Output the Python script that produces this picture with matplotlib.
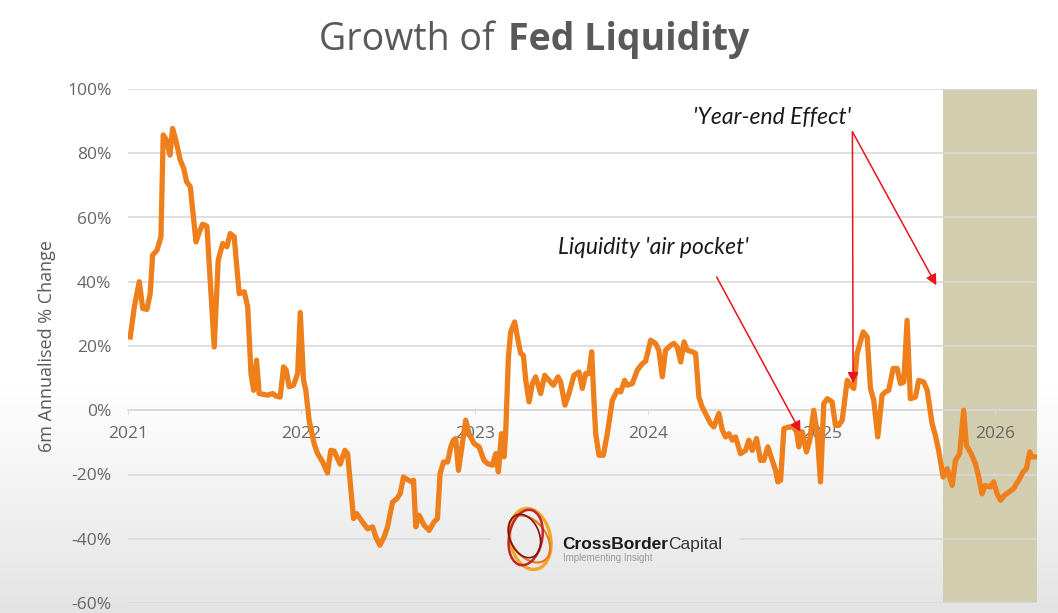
import matplotlib.pyplot as plt
import matplotlib.patches as patches
import numpy as np

# Fed liquidity, 6m annualised % change
t_years = [0.013, 0.036, 0.065, 0.085, 0.109, 0.128, 0.142, 0.167, 0.190, 0.203,
           0.223, 0.242, 0.257, 0.276, 0.301, 0.321, 0.338, 0.359, 0.392, 0.411,
           0.430, 0.455, 0.497, 0.520, 0.546, 0.570, 0.589, 0.612, 0.641, 0.670,
           0.690, 0.709, 0.724, 0.741, 0.756, 0.805, 0.834, 0.853, 0.877, 0.897,
           0.912, 0.929, 0.954, 0.978, 0.993, 1.012, 1.025, 1.044, 1.073, 1.093,
           1.122, 1.150, 1.169, 1.188, 1.223, 1.250, 1.266, 1.300, 1.319, 1.352,
           1.381, 1.410, 1.429, 1.452, 1.476, 1.496, 1.525, 1.550, 1.569, 1.588,
           1.611, 1.636, 1.646, 1.659, 1.678, 1.707, 1.736, 1.764, 1.784, 1.799,
           1.819, 1.842, 1.861, 1.876, 1.889, 1.905, 1.947, 1.966, 1.995, 2.024,
           2.052, 2.072, 2.101, 2.120, 2.135, 2.153, 2.168, 2.177, 2.193, 2.206,
           2.229, 2.248, 2.264, 2.279, 2.293, 2.312, 2.331, 2.350, 2.379, 2.402,
           2.427, 2.452, 2.479, 2.494, 2.519, 2.542, 2.571, 2.600, 2.619, 2.638,
           2.657, 2.673, 2.686, 2.696, 2.715, 2.740, 2.763, 2.792, 2.821, 2.840,
           2.863, 2.878, 2.907, 2.936, 2.965, 2.984, 3.013, 3.041, 3.060, 3.080,
           3.099, 3.128, 3.147, 3.166, 3.186, 3.205, 3.224, 3.253, 3.272, 3.291,
           3.310, 3.339, 3.358, 3.377, 3.406, 3.426, 3.445, 3.464, 3.483, 3.502,
           3.531, 3.560, 3.579, 3.599, 3.623, 3.646, 3.665, 3.688, 3.714, 3.733,
           3.746, 3.762, 3.781, 3.809, 3.835, 3.854, 3.867, 3.887, 3.911, 3.930,
           3.953, 3.973, 3.992, 4.011, 4.031, 4.059, 4.078, 4.097, 4.117, 4.146,
           4.165, 4.184, 4.203, 4.238, 4.261, 4.280, 4.299, 4.322, 4.347, 4.366,
           4.385, 4.411, 4.434, 4.453, 4.472, 4.491, 4.510, 4.539, 4.558, 4.587,
           4.607, 4.635, 4.654, 4.673, 4.699, 4.722, 4.751, 4.770, 4.794, 4.817,
           4.833, 4.860, 4.885, 4.904, 4.923, 4.942, 4.971, 4.990, 5.010, 5.029,
           5.052, 5.077, 5.105, 5.134, 5.160, 5.179, 5.198, 5.211, 5.236]
growth = [22.8, 32.0, 40.0, 31.7, 31.4, 36.3, 48.3, 49.8, 54.0, 85.7,
          84.0, 79.4, 87.7, 84.0, 77.9, 75.3, 71.1, 69.6, 52.4, 55.5,
          57.9, 57.3, 19.7, 46.7, 51.9, 50.9, 55.0, 54.0, 36.3, 36.9,
          32.2, 11.4, 6.2, 15.6, 5.2, 4.7, 5.2, 4.4, 4.1, 13.5,
          12.5, 7.3, 7.8, 11.4, 30.4, 9.3, 6.2, -3.1, -10.4, -13.5,
          -16.1, -19.5, -12.5, -12.7, -16.8, -12.5, -13.5, -33.7, -32.2, -34.8,
          -36.9, -36.3, -39.5, -42.0, -39.5, -36.3, -28.6, -27.5, -26.0, -20.8,
          -21.6, -22.3, -21.8, -36.3, -32.7, -35.8, -37.4, -34.8, -33.7, -19.7,
          -16.1, -16.1, -11.4, -9.3, -8.8, -18.7, -3.1, -7.3, -10.4, -11.4,
          -15.6, -16.6, -17.1, -13.5, -19.2, -7.3, -14.5, -7.3, 16.6, 24.4,
          27.5, 21.8, 17.7, 17.1, 9.3, 2.6, 8.3, 10.4, 5.2, 10.9,
          9.3, 7.8, 10.4, 8.8, 1.6, 5.2, 10.9, 11.9, 6.8, 11.4,
          11.4, 18.2, 3.1, -7.3, -14.0, -14.0, -7.3, 3.1, 6.2, 5.7,
          9.3, 7.8, 8.3, 12.5, 14.5, 15.3, 21.8, 20.8, 18.7, 10.4,
          18.7, 20.2, 20.8, 19.7, 15.0, 21.3, 18.7, 18.2, 17.7, 4.1,
          1.0, -2.1, -4.1, -5.2, -1.0, -6.2, -8.3, -7.3, -9.3, -8.3,
          -13.5, -12.5, -9.3, -12.5, -8.8, -15.6, -15.6, -11.4, -15.6, -18.7,
          -22.3, -21.8, -5.7, -5.2, -5.2, -6.7, -11.4, -6.7, -13.0, -9.3,
          0.0, -7.3, -22.3, 2.1, 3.6, 2.6, -4.7, -4.7, -3.1, 9.3,
          7.8, 6.8, 17.7, 24.4, 22.8, 6.8, 3.1, -8.3, 4.7, 5.7,
          6.2, 13.0, 13.0, 8.3, 8.8, 28.0, 3.6, 4.1, 9.3, 8.8,
          6.2, -4.1, -7.8, -12.5, -20.8, -18.2, -23.4, -15.6, -13.5, 0.0,
          -10.9, -13.5, -16.6, -20.8, -26.0, -23.4, -23.9, -22.3, -26.0, -28.0,
          -26.5, -25.5, -24.4, -21.8, -19.2, -18.2, -13.0, -14.5, -14.5]
year_ticks = [2021, 2022, 2023, 2024, 2025, 2026]
pct_ticks = [-60, -40, -20, 0, 20, 40, 60, 80, 100]
forecast_start = 2025.70
x_end = 2026.24

dates = 2021 + np.array(t_years)

W, H = 1058, 613
fig = plt.figure(figsize=(W / 100, H / 100), dpi=100)

# greyish fade towards the bottom of the slide
bg = fig.add_axes([0, 0, 1, 1], zorder=-10)
rows = np.arange(H)
shade = np.where(rows < 380, 1.0, 1.0 - 0.11 * (rows - 380) / (H - 380))
bg.imshow(shade[:, None], cmap='gray', vmin=0, vmax=1, aspect='auto',
          extent=[0, 1, 0, 1])
bg.axis('off')

grey_txt = '#666666'
ax = fig.add_axes([128 / W, 1 - 603 / H, (1037 - 128) / W, (603 - 89) / H])
ax.patch.set_alpha(0)

ax.axvspan(forecast_start, x_end, color='#d3cdb0', zorder=0.2, lw=0)
ax.plot(dates, growth, color='#ee7f1b', lw=3.8, solid_joinstyle='round', zorder=3)

ax.set_xlim(2021.0, x_end)
ax.set_ylim(-60, 100)
ax.set_yticks(pct_ticks)
ax.set_yticklabels([f'{v}%' for v in pct_ticks])
ax.set_xticks(year_ticks)
ax.set_xticklabels([str(y) for y in year_ticks])
ax.grid(axis='y', color='#d9d9d9', lw=1.2)
ax.set_axisbelow(True)
for s in ['top', 'right', 'left']:
    ax.spines[s].set_visible(False)
ax.spines['bottom'].set_position(('data', 0))
ax.spines['bottom'].set_color('#d9d9d9')
ax.spines['bottom'].set_linewidth(1.2)
ax.tick_params(axis='y', length=0, pad=12, labelsize=12.5, labelcolor=grey_txt)
ax.tick_params(axis='x', length=3, color='#d9d9d9', pad=8, labelsize=12.5,
               labelcolor=grey_txt)
for lab in ax.get_xticklabels() + ax.get_yticklabels():
    lab.set_family('Open Sans')
ax.set_ylabel('6m Annualised % Change', fontsize=13, color='#595959',
              family='Open Sans', labelpad=8)

# hide the gridline behind the logo
ax.add_patch(patches.Rectangle((2023.09, -41.3), 1.44, 2.6, facecolor='#ececec',
                               edgecolor='none', zorder=1))

# annotations
arrow = dict(arrowstyle='-|>', color='#e8141c', lw=1.1, mutation_scale=16,
             shrinkA=0, shrinkB=0)
ax.annotate("'Year-end Effect'", xy=(2024.71, 91.0), ha='center', va='center',
            fontsize=16.5, style='italic', color='#1a1a1a', family='Lato')
ax.annotate('', xy=(2025.180, 8.4), xytext=(2025.176, 86.7), arrowprops=arrow)
ax.annotate('', xy=(2025.660, 38.9), xytext=(2025.176, 86.7), arrowprops=arrow)
ax.annotate("Liquidity 'air pocket'", xy=(2024.027, 50.8), ha='center', va='center',
            fontsize=16.5, style='italic', color='#1a1a1a', family='Lato')
ax.annotate('', xy=(2024.877, -6.8), xytext=(2024.393, 41.5), arrowprops=arrow)

# title
fig.text(495 / W, 1 - 50 / H, 'Growth of', ha='right', va='baseline', fontsize=27,
         color='#595959', family='Open Sans')
fig.text(508 / W, 1 - 50 / H, 'Fed Liquidity', ha='left', va='baseline', fontsize=27,
         color='#595959', family='Open Sans', weight='bold')

# logo
logo = fig.add_axes([500 / W, 1 - 575 / H, 56 / W, 72 / H])
logo.set_xlim(-1.2, 1.2)
logo.set_ylim(-1.2, 1.2)
logo.axis('off')
rings = [((0.1, 0.0), 1.7, 2.1, 25, '#f5a623', 2.4),
         ((0.05, 0.0), 2.0, 1.3, -35, '#ea7b1d', 1.6),
         ((-0.1, 0.05), 1.4, 1.9, -20, '#c1272d', 1.8),
         ((-0.15, 0.1), 1.2, 1.6, 40, '#7d1517', 1.2)]
for c, w, h, ang, col, lw in rings:
    logo.add_patch(patches.Ellipse(c, w, h, angle=ang, fill=False, edgecolor=col, lw=lw))

r = fig.canvas.get_renderer()
t1 = fig.text(562 / W, 1 - 549 / H, 'CrossBorder', fontsize=12.5, weight='bold',
              color='#1a1a1a', family='Liberation Sans', va='baseline')
bb = t1.get_window_extent(renderer=r)
fig.text(bb.x1 / W, 1 - 549 / H, 'Capital', fontsize=12.5, color='#333333',
         family='Liberation Sans', va='baseline')
fig.text(563 / W, 1 - 561 / H, 'Implementing Insight', fontsize=7, color='#9a9a9a',
         family='Liberation Sans', va='baseline')

fig.savefig('out.png', dpi=100)
